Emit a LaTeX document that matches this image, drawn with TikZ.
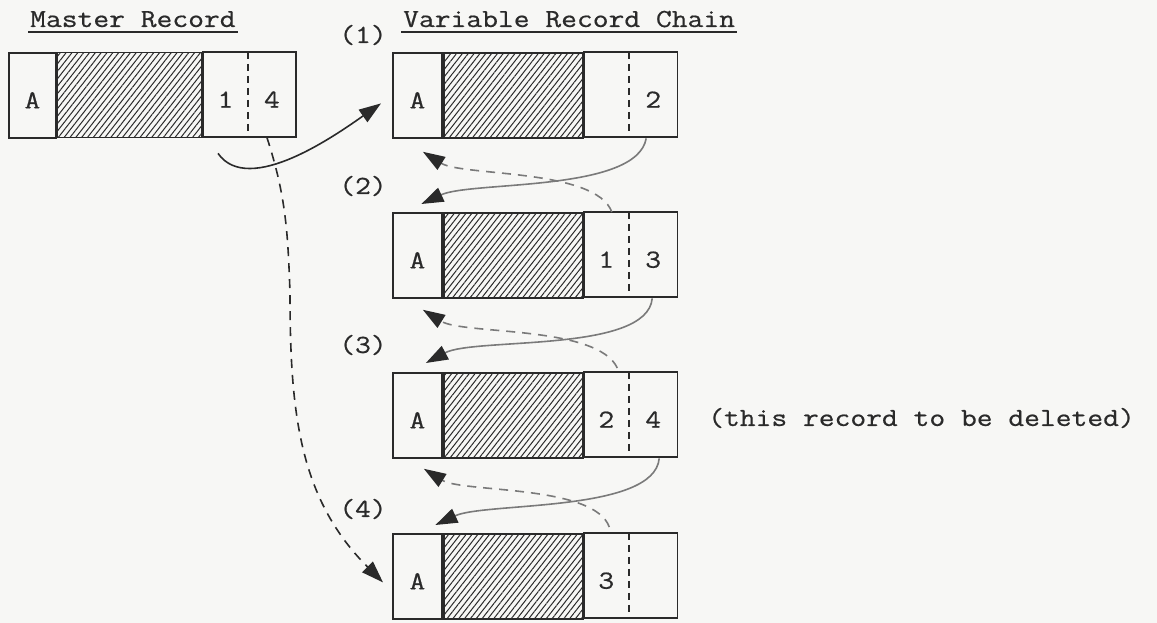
\documentclass[tikz,border=0pt]{standalone}
\usepackage{fontspec}
\setmainfont[FakeStretch=1.18,FakeBold=0.6]{Latin Modern Mono}
\usetikzlibrary{arrows.meta,patterns.meta,calc}
\definecolor{ink}{HTML}{2A2A2A}
\definecolor{inkgrey}{HTML}{7A7A7A}
\definecolor{paper}{HTML}{F7F7F5}
\tikzset{
  tt/.style={font=\fontsize{26}{30}\selectfont, text=ink},
  celltext/.style={tt, text height=26pt, text depth=0pt},
  cell/.style={celltext, draw=ink, line width=1.8pt, minimum height=85pt, inner sep=0pt, anchor=north west},
  hatchcell/.style={cell, pattern={Lines[angle=52,distance=4.6pt,line width=1pt]}, pattern color=ink},
  bare/.style={celltext, minimum height=85pt, inner sep=0pt, anchor=north west},
  box/.style={draw=ink, line width=1.8pt},
  divider/.style={draw=ink, line width=1.5pt, dash pattern=on 7pt off 5pt},
  link/.style={draw=ink, line width=1.6pt, -{Triangle[length=22pt,width=15pt,color=ink]}},
  backlink/.style={link, dash pattern=on 9pt off 7pt},
  greylink/.style={link, draw=inkgrey},
  greyback/.style={backlink, draw=inkgrey},
  heading/.style={tt, inner sep=0pt, anchor=base west},
  step label/.style={tt, inner sep=0pt},
  uline/.style={draw=ink, line width=1.8pt}
}
% #1 name, #2 left, #3 top, #4 wA, #5 wH, #6 wP, #7 wN, #8 ptext, #9 ntext
\newcommand\recrow[9]{%
  \node[cell, minimum width=#4] (#1A) at (#2,#3) {A};
  \node[hatchcell, minimum width=#5] (#1H) at (#1A.north east) {};
  \node[bare, minimum width=#6] (#1P) at (#1H.north east) {#8};
  \node[bare, minimum width=#7] (#1N) at (#1P.north east) {#9};
  \draw[box] (#1P.north west) rectangle (#1N.south east);
  \draw[divider] (#1P.north east) -- (#1P.south east);
}
\begin{document}
\begin{tikzpicture}[x=1pt,y=1pt]
  \useasboundingbox[fill=paper] (0,0) rectangle (1157,623);

  % headings
  \node[heading] (hm) at (30,596) {Master Record};
  \draw[uline] ([shift={(-2,-5)}]hm.base west) -- ([shift={(2,-5)}]hm.base east);
  \node[heading] (hv) at (403,596) {Variable Record Chain};
  \draw[uline] ([shift={(-2,-5)}]hv.base west) -- ([shift={(2,-5)}]hv.base east);

  % step labels
  \node[step label] (s1) at (363,588) {(1)};
  \node[step label] (s2) at (363,437) {(2)};
  \node[step label] (s3) at (363,278) {(3)};
  \node[step label] (s4) at (363,114) {(4)};

  % records
  \recrow{m}{8}{571}{47pt}{145pt}{45pt}{47pt}{1}{4}
  \recrow{ca}{392}{571}{49pt}{139pt}{45pt}{48pt}{}{2}
  \recrow{cb}{392}{411}{49pt}{139pt}{45pt}{48pt}{1}{3}
  \recrow{cc}{392}{251}{49pt}{139pt}{45pt}{48pt}{2}{4}
  \recrow{cd}{392}{90}{49pt}{139pt}{45pt}{48pt}{3}{}

  \node[tt, anchor=west, inner sep=0pt] (note) at (708,205) {(this record to be deleted)};

  % master links
  \draw[link] ([shift={(-7.5,-16)}]mP.south) to[out=-55,in=-145,looseness=0.8] ([shift={(-11,-8)}]caA.west);
  \draw[backlink] ([xshift=-5]mN.south) to[out=-72,in=92] (290,330) to[out=-90,in=135] ([shift={(-9,-6)}]cdA.west);

  % forward links
  \draw[greylink] ([shift={(-7,-1)}]caN.south) to[out=-100,in=25,looseness=0.6] ([shift={(4,8)}]cbA.north);
  \draw[greylink] ([shift={(-1,-1)}]cbN.south) to[out=-95,in=28,looseness=0.6] ([shift={(8.5,9)}]ccA.north);
  \draw[greylink] ([shift={(6,-1)}]ccN.south) to[out=-95,in=25,looseness=0.6] ([shift={(18,8)}]cdA.north);

  % backward links
  \draw[greyback] ([xshift=5.5]cbP.north) to[out=110,in=-32,looseness=0.6] ([shift={(5.5,-13)}]caA.south);
  \draw[greyback] ([shift={(11,4)}]ccP.north) to[out=115,in=-32,looseness=0.6] ([shift={(5.5,-11)}]cbA.south);
  \draw[greyback] ([shift={(3,6)}]cdP.north) to[out=110,in=-32,looseness=0.6] ([shift={(6.5,-10)}]ccA.south);
\end{tikzpicture}
\end{document}
